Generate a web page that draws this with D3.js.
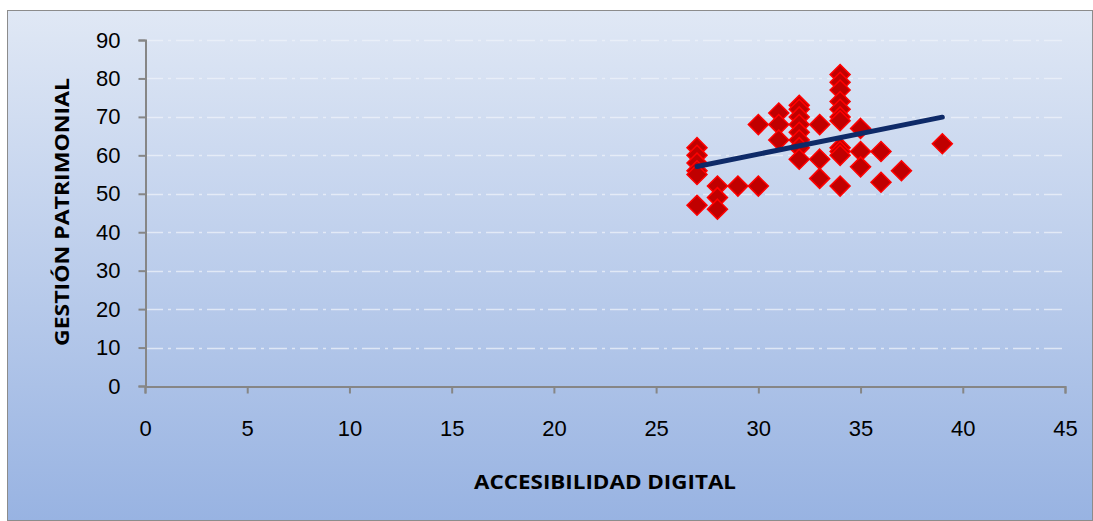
<!DOCTYPE html>
<html>
<head>
<meta charset="utf-8">
<script src="https://cdn.jsdelivr.net/npm/d3@7/dist/d3.min.js"></script>
<style>
  body { margin: 0; background: #fff; }
  svg { display: block; font-family: "Open Sans", sans-serif; }
</style>
</head>
<body>
<svg width="1093" height="521"></svg>
<script>
// accesibilidad digital (x) vs gestion patrimonial (y)
const xVals = [27, 27, 27, 27, 27, 27, 28, 28, 28, 29, 30, 30, 31, 31, 31,
  32, 32, 32, 32, 32, 32, 32, 32, 33, 33, 33,
  34, 34, 34, 34, 34, 34, 34, 34, 34, 34, 34,
  35, 35, 35, 36, 36, 37, 39]
const yVals = [62, 60, 58, 56, 55, 47, 52, 49, 46, 52, 52, 68, 71, 68, 64,
  73, 72, 70, 68, 66, 64, 62, 59, 68, 59, 54,
  81, 79, 77, 74, 72, 70, 69, 62, 61, 60, 52,
  67, 61, 57, 61, 53, 56, 63]
const xTicks = [0, 5, 10, 15, 20, 25, 30, 35, 40, 45]
const yTicks = [0, 10, 20, 30, 40, 50, 60, 70, 80, 90]
const xTitle = 'ACCESIBILIDAD DIGITAL'
const yTitle = 'GESTIÓN PATRIMONIAL'

const width = 1093
const height = 521
const margin = { left: 145, top: 40, right: 28, bottom: 135 }

const svg = d3.select('svg')

const defs = svg.append('defs')
const grad = defs.append('linearGradient')
  .attr('id', 'bg')
  .attr('x1', 0).attr('y1', 0).attr('x2', 0).attr('y2', 1)
grad.append('stop').attr('offset', '0%').attr('stop-color', '#e0e8f5')
grad.append('stop').attr('offset', '100%').attr('stop-color', '#98b3e2')

// chart area
svg.append('rect')
  .attr('x', 7.5).attr('y', 10.5)
  .attr('width', width - 8).attr('height', height - 11)
  .attr('fill', 'url(#bg)')
  .attr('stroke', '#8c8c8c')
  .attr('stroke-width', 1)

const x = d3.scaleLinear()
  .domain([0, 45])
  .range([margin.left, width - margin.right])

const y = d3.scaleLinear()
  .domain([0, 90])
  .range([height - margin.bottom, margin.top])

// grid
svg.append('g')
  .selectAll('line')
  .data(yTicks.filter(d => d > 0))
  .join('line')
  .attr('x1', x(0))
  .attr('x2', x(45))
  .attr('y1', d => Math.round(y(d)) + 0.5)
  .attr('y2', d => Math.round(y(d)) + 0.5)
  .attr('stroke', '#eef2fa')
  .attr('stroke-opacity', 0.75)
  .attr('stroke-width', 1.5)
  .attr('stroke-dasharray', '18,5,3,5')

const xAxis = g => g
  .attr('transform', `translate(0, ${Math.round(y(0)) + 0.5})`)
  .call(d3.axisBottom(x).tickValues(xTicks).tickSize(7).tickPadding(27))
  .call(g => g.selectAll('line, path').attr('stroke', '#868686').attr('stroke-width', 2))
  .call(g => g.selectAll('text').attr('font-size', 22).attr('fill', '#000'))

const yAxis = g => g
  .attr('transform', `translate(${Math.round(x(0)) + 0.5}, 0)`)
  .call(d3.axisLeft(y).tickValues(yTicks).tickSize(7).tickPadding(18))
  .call(g => g.selectAll('line, path').attr('stroke', '#868686').attr('stroke-width', 2))
  .call(g => g.selectAll('text').attr('font-size', 22).attr('fill', '#000'))

svg.append('g').call(yAxis)
svg.append('g').call(xAxis)

// points
const pts = xVals.map((d, i) => [d, yVals[i]])
const r = 10
svg.append('g')
  .selectAll('path')
  .data(pts)
  .join('path')
  .attr('d', d => {
    const cx = x(d[0]), cy = y(d[1])
    return `M${cx},${cy - r}L${cx + r},${cy}L${cx},${cy + r}L${cx - r},${cy}Z`
  })
  .attr('fill', '#c00000')
  .attr('stroke', '#ff0000')
  .attr('stroke-width', 1.5)

// linear trend from the points
const mx = d3.mean(xVals)
const my = d3.mean(yVals)
const slope = d3.sum(pts, d => (d[0] - mx) * (d[1] - my)) / d3.sum(pts, d => (d[0] - mx) ** 2)
const icpt = my - slope * mx
const ext = d3.extent(xVals)
svg.append('line')
  .attr('x1', x(ext[0])).attr('y1', y(icpt + slope * ext[0]))
  .attr('x2', x(ext[1])).attr('y2', y(icpt + slope * ext[1]))
  .attr('stroke', '#0e2a68')
  .attr('stroke-width', 5)
  .attr('stroke-linecap', 'round')

// titles
svg.append('text')
  .attr('x', 605)
  .attr('y', 489)
  .attr('text-anchor', 'middle')
  .attr('font-size', 20)
  .attr('font-weight', 'bold')
  .attr('textLength', 262)
  .attr('lengthAdjust', 'spacingAndGlyphs')
  .text(xTitle)

svg.append('text')
  .attr('transform', `translate(69, 212) rotate(-90)`)
  .attr('text-anchor', 'middle')
  .attr('font-size', 20)
  .attr('font-weight', 'bold')
  .attr('textLength', 268)
  .attr('lengthAdjust', 'spacingAndGlyphs')
  .text(yTitle)
</script>
</body>
</html>
